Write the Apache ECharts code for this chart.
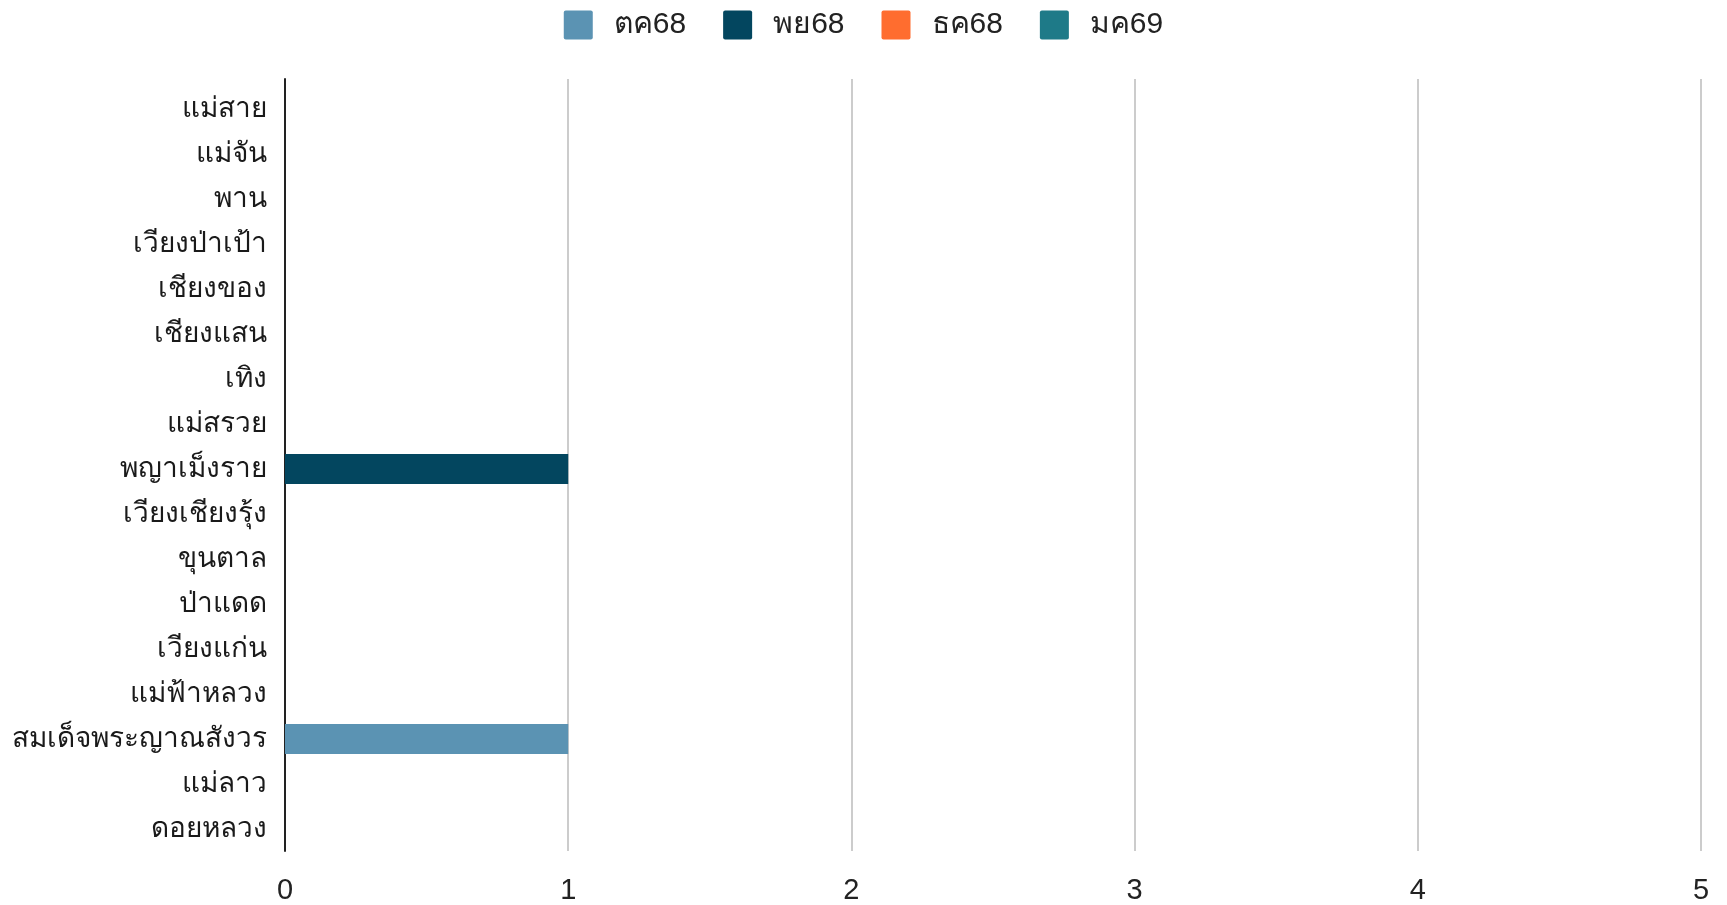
<!DOCTYPE html>
<html>
<head>
<meta charset="utf-8">
<script src="https://cdn.jsdelivr.net/npm/echarts@6/dist/echarts.min.js"></script>
<style>
  html, body { margin: 0; padding: 0; background: #fff; }
  #chart { width: 1727px; height: 905px; }
</style>
</head>
<body>
<div id="chart"></div>
<script>
// Districts, listed top to bottom
const districts = [
  'แม่สาย', 'แม่จัน', 'พาน', 'เวียงป่าเป้า', 'เชียงของ', 'เชียงแสน', 'เทิง',
  'แม่สรวย', 'พญาเม็งราย', 'เวียงเชียงรุ้ง', 'ขุนตาล', 'ป่าแดด', 'เวียงแก่น',
  'แม่ฟ้าหลวง', 'สมเด็จพระญาณสังวร', 'แม่ลาว', 'ดอยหลวง'
];

// Monthly counts per district (same order as districts)
const oct68 = [0, 0, 0, 0, 0, 0, 0, 0, 0, 0, 0, 0, 0, 0, 1, 0, 0];
const nov68 = [0, 0, 0, 0, 0, 0, 0, 0, 1, 0, 0, 0, 0, 0, 0, 0, 0];
const dec68 = [0, 0, 0, 0, 0, 0, 0, 0, 0, 0, 0, 0, 0, 0, 0, 0, 0];
const jan69 = [0, 0, 0, 0, 0, 0, 0, 0, 0, 0, 0, 0, 0, 0, 0, 0, 0];

const seriesNames = ['ตค68', 'พย68', 'ธค68', 'มค69'];
const seriesData = [oct68, nov68, dec68, jan69];
const seriesColors = ['#5b93b3', '#03465f', '#ff6d2f', '#1e7a88'];

const xTicks = { min: 0, max: 5, interval: 1 };

const FONT = 'Arial, "Liberation Sans", sans-serif';
const LEFT = 285, RIGHT = 1727 - 1701;

// square legend swatch with slightly rounded corners
const SWATCH = 'path://M2,0H27A2,2,0,0,1,29,2V27A2,2,0,0,1,27,29H2A2,2,0,0,1,0,27V2A2,2,0,0,1,2,0Z';

const chart = echarts.init(document.getElementById('chart'), null, { renderer: 'canvas' });

chart.setOption({
  backgroundColor: '#ffffff',
  animation: false,
  legend: {
    top: 5,
    left: 'center',
    icon: SWATCH,
    itemWidth: 29,
    itemHeight: 29,
    itemGap: 37,
    textStyle: { fontFamily: FONT, fontSize: 30, color: '#222', padding: [0, 0, 0, 16] },
    data: seriesNames
  },
  grid: [
    // frame: gridlines and the zero axis line
    { left: LEFT, right: RIGHT, top: 79, bottom: 905 - 860, containLabel: false },
    // bars and district labels
    { left: LEFT, right: RIGHT, top: 86.5, bottom: 905 - 851.5, containLabel: false }
  ],
  xAxis: [
    {
      gridIndex: 0, type: 'value', min: xTicks.min, max: xTicks.max, interval: xTicks.interval,
      axisLine: { show: false }, axisTick: { show: false },
      axisLabel: { fontFamily: FONT, fontSize: 29, color: '#222', margin: 25 },
      splitLine: { show: true, lineStyle: { color: '#cccccc', width: 2 } }
    },
    {
      gridIndex: 1, type: 'value', min: xTicks.min, max: xTicks.max, interval: xTicks.interval,
      show: false
    }
  ],
  yAxis: [
    {
      gridIndex: 0, type: 'value', min: 0, max: 1,
      axisLine: { show: true, lineStyle: { color: '#222', width: 2 } },
      axisTick: { show: false }, axisLabel: { show: false }, splitLine: { show: false }
    },
    {
      gridIndex: 1, type: 'category', inverse: true, data: districts,
      axisLine: { show: false }, axisTick: { show: false }, splitLine: { show: false },
      axisLabel: { fontFamily: FONT, fontSize: 28, color: '#1a1a1a', margin: 18 }
    }
  ],
  series: seriesNames.map((name, i) => ({
    name: name,
    type: 'bar',
    stack: 'total',
    xAxisIndex: 1,
    yAxisIndex: 1,
    barWidth: 30,
    itemStyle: { color: seriesColors[i] },
    data: seriesData[i]
  }))
});
</script>
</body>
</html>
